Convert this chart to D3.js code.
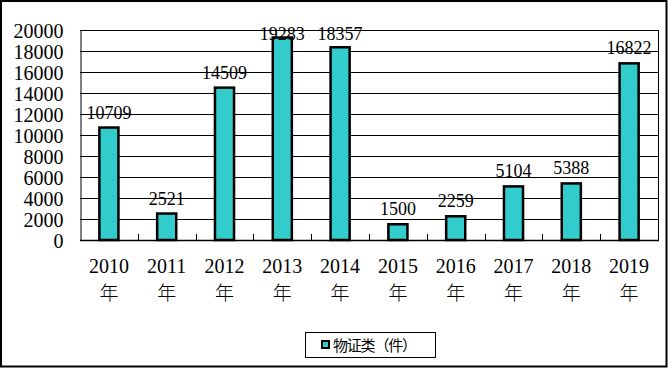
<!DOCTYPE html>
<html><head><meta charset="utf-8">
<script src="https://cdn.jsdelivr.net/npm/d3@7"></script>
<style>body{margin:0;background:#fff}svg{display:block}</style>
</head><body>
<svg id="c" width="668" height="368"></svg>
<script>
const categories = ["2010","2011","2012","2013","2014","2015","2016","2017","2018","2019"];
const values = [10709, 2521, 14509, 19283, 18357, 1500, 2259, 5104, 5388, 16822];
const yTicks = [0,2000,4000,6000,8000,10000,12000,14000,16000,18000,20000];
const yearSuffix = "年";
const seriesName = "物证类（件）";

(function(){
const svg = d3.select("#c");
const W = 668, H = 368;
const pL = 80, pR = 658, pT = 30, pB = 240;
const serif = "'Liberation Serif','DejaVu Serif',serif";
const cjk = "'Noto Sans CJK SC','Noto Sans',sans-serif";

svg.append("rect").attr("x",1).attr("y",1).attr("width",W-2.5).attr("height",H-2.5)
  .attr("fill","#fff").attr("stroke","#000").attr("stroke-width",2);

const x = d3.scaleBand().domain(categories).range([pL,pR]).paddingInner(0.67).paddingOuter(0.335);
const y = d3.scaleLinear().domain([0,20000]).range([pB,pT]);

// gridlines
svg.append("g").selectAll("line").data(yTicks.filter(d=>d>0)).join("line")
  .attr("x1",pL).attr("x2",pR)
  .attr("y1",d=>Math.round(y(d))+0.5).attr("y2",d=>Math.round(y(d))+0.5)
  .attr("stroke","#000").attr("stroke-width",1);

// right frame
svg.append("line").attr("x1",pR+0.5).attr("x2",pR+0.5).attr("y1",pT).attr("y2",pB)
  .attr("stroke","#000");

// y axis
const yAxis = d3.axisLeft(y).tickValues(yTicks).tickSize(0).tickPadding(17).tickFormat(d3.format("d"));
const gy = svg.append("g").attr("transform",`translate(${pL+0.5},0)`).call(yAxis);
gy.select(".domain").attr("stroke","#000").attr("stroke-width",1);
gy.selectAll("text").attr("font-family",serif).attr("font-size",20).attr("fill","#000").attr("dy","0.36em");

// bars
svg.append("g").selectAll("rect").data(values).join("rect")
  .attr("x",(d,i)=>x(categories[i]))
  .attr("y",d=>y(d))
  .attr("width",x.bandwidth())
  .attr("height",d=>y(0)-y(d))
  .attr("fill","#33CCCC").attr("stroke","#000").attr("stroke-width",2.5);

// x axis baseline and inner ticks
const step = x.step();
svg.append("line").attr("x1",pL).attr("x2",pR+1).attr("y1",pB+0.5).attr("y2",pB+0.5)
  .attr("stroke","#000").attr("stroke-width",1.5);
svg.append("g").selectAll("line").data(d3.range(1,categories.length)).join("line")
  .attr("x1",i=>Math.round(pL+i*step)+0.5).attr("x2",i=>Math.round(pL+i*step)+0.5)
  .attr("y1",pB-6).attr("y2",pB)
  .attr("stroke","#000");

// x labels
const xl = svg.append("g").selectAll("g").data(categories).join("g")
  .attr("transform",d=>`translate(${x(d)+x.bandwidth()/2},0)`);
xl.append("text").attr("y",273).attr("text-anchor","middle")
  .attr("font-family",serif).attr("font-size",20).text(d=>d);
xl.append("text").attr("y",300).attr("text-anchor","middle")
  .attr("font-family",cjk).attr("font-size",19).attr("font-weight",300).text(yearSuffix);

// value labels
svg.append("g").selectAll("text").data(values).join("text")
  .attr("x",(d,i)=>x(categories[i])+x.bandwidth()/2)
  .attr("y",d=>Math.max(40, y(d)-9))
  .attr("text-anchor","middle")
  .attr("font-family",serif).attr("font-size",18).text(d=>d);

// legend
const lg = svg.append("g");
lg.append("rect").attr("x",305.5).attr("y",332.5).attr("width",130).attr("height",25)
  .attr("fill","#fff").attr("stroke","#000");
lg.append("rect").attr("x",322).attr("y",341).attr("width",7).attr("height",7)
  .attr("fill","#33CCCC").attr("stroke","#000").attr("stroke-width",2);
lg.append("text").attr("x",333).attr("y",351).attr("font-family",cjk).attr("font-size",15)
  .attr("textLength",84).attr("lengthAdjust","spacing")
  .text(seriesName);
})();
</script>
</body></html>
